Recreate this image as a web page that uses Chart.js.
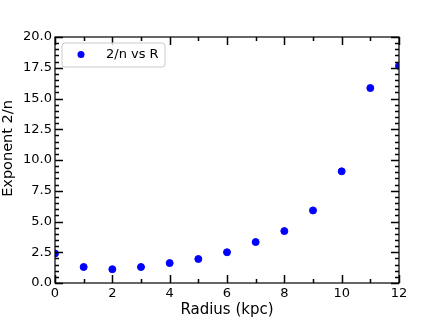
<!DOCTYPE html>
<html>
<head>
<meta charset="utf-8">
<script src="https://cdn.jsdelivr.net/npm/chart.js@4.4.1/dist/chart.umd.min.js"></script>
<style>
  html, body { margin: 0; padding: 0; background: #fff; }
  #wrap { width: 443px; height: 319px; }
</style>
</head>
<body>
<div id="wrap"><canvas id="mycanvas" width="443" height="319"></canvas></div>
<script>
// radius in kpc and fitted 2/n values
var radius = [0, 1, 2, 3, 4, 5, 6, 7, 8, 9, 10, 11, 12];
var exponent = [2.4, 1.3, 1.12, 1.3, 1.62, 1.95, 2.5, 3.33, 4.22, 5.9, 9.08, 15.85, 17.65];
var xTicks = [0, 2, 4, 6, 8, 10, 12];
var yTicks = [0, 2.5, 5, 7.5, 10, 12.5, 15, 17.5, 20];
var seriesLabel = '2/n vs R';
var yTitle = 'Exponent 2/n';

var font = "'DejaVu Sans', sans-serif";

var points = [];
for (var i in radius) {
    points.push({ x: radius[i], y: exponent[i] });
}

// matplotlib style frame with inward ticks, y title and boxed legend
var framePlugin = {
    id: 'frame',
    afterDraw: function (chart) {
        var ctx = chart.ctx;
        var a = chart.chartArea;
        var xs = chart.scales.x, ys = chart.scales.y;
        ctx.save();
        ctx.strokeStyle = '#000';
        ctx.lineWidth = 1.2;
        ctx.strokeRect(a.left, a.top, a.right - a.left, a.bottom - a.top);

        ctx.lineWidth = 1.5;
        ctx.beginPath();
        for (var v = 0; v <= 12; v += 1) {
            var px = Math.round(xs.getPixelForValue(v)) + 0.5;
            var len = (v % 2 === 0) ? 8 : 4;
            ctx.moveTo(px, a.bottom); ctx.lineTo(px, a.bottom - len);
            ctx.moveTo(px, a.top); ctx.lineTo(px, a.top + len);
        }
        for (var k = 0; k <= 40; k++) {
            var py = Math.round(ys.getPixelForValue(k * 0.5)) + 0.5;
            var ln = (k % 5 === 0) ? 8 : 4;
            ctx.moveTo(a.left, py); ctx.lineTo(a.left + ln, py);
            ctx.moveTo(a.right, py); ctx.lineTo(a.right - ln, py);
        }
        ctx.stroke();

        // y axis title
        ctx.save();
        ctx.translate(12.3, 148.5);
        ctx.rotate(-Math.PI / 2);
        ctx.fillStyle = '#000';
        ctx.font = '14.5px ' + font;
        ctx.textAlign = 'center';
        ctx.textBaseline = 'alphabetic';
        ctx.fillText(yTitle, 0, 0);
        ctx.restore();

        // legend
        var bx = 62, by = 43, bw = 103, bh = 24, r = 3;
        ctx.fillStyle = 'rgba(255,255,255,0.8)';
        ctx.strokeStyle = '#cccccc';
        ctx.lineWidth = 1;
        ctx.beginPath();
        ctx.moveTo(bx + r, by);
        ctx.arcTo(bx + bw, by, bx + bw, by + bh, r);
        ctx.arcTo(bx + bw, by + bh, bx, by + bh, r);
        ctx.arcTo(bx, by + bh, bx, by, r);
        ctx.arcTo(bx, by, bx + bw, by, r);
        ctx.closePath();
        ctx.fill();
        ctx.stroke();
        ctx.fillStyle = '#0000ff';
        ctx.beginPath();
        ctx.arc(81, 54.5, 3.5, 0, Math.PI * 2);
        ctx.fill();
        ctx.fillStyle = '#000';
        ctx.font = '13px ' + font;
        ctx.textBaseline = 'middle';
        ctx.fillText(seriesLabel, 106, 55);
        ctx.restore();
    }
};

var ctx = document.getElementById('mycanvas');

var scatter = new Chart(ctx, {
    type: 'scatter',
    data: {
        datasets: [{
            label: seriesLabel,
            data: points,
            backgroundColor: '#0000ff',
            borderColor: '#0000ff',
            pointRadius: 3.5,
            pointHoverRadius: 3.5,
            clip: 0
        }]
    },
    options: {
        responsive: false,
        animation: false,
        layout: { padding: { top: 37, right: 44, left: 0, bottom: 0 } },
        plugins: {
            legend: { display: false },
            tooltip: { enabled: false }
        },
        scales: {
            x: {
                type: 'linear',
                min: 0,
                max: 12,
                afterFit: function (s) { s.height = 36; },
                afterBuildTicks: function (s) {
                    s.ticks = xTicks.map(function (v) { return { value: v }; });
                },
                grid: { display: false, drawTicks: false },
                border: { display: false },
                ticks: {
                    padding: 3,
                    color: '#000',
                    font: { family: font, size: 13 },
                    maxRotation: 0
                },
                title: {
                    display: true,
                    text: 'Radius (kpc)',
                    color: '#000',
                    font: { family: font, size: 15 },
                    padding: { top: 0, bottom: 0 }
                }
            },
            y: {
                type: 'linear',
                min: 0,
                max: 20,
                afterFit: function (s) { s.width = 55; },
                afterBuildTicks: function (s) {
                    s.ticks = yTicks.map(function (v) { return { value: v }; });
                },
                grid: { display: false, drawTicks: false },
                border: { display: false },
                ticks: {
                    padding: 3,
                    color: '#000',
                    font: { family: font, size: 13 },
                    callback: function (v) { return Number(v).toFixed(1); }
                },
                title: { display: false }
            }
        }
    },
    plugins: [framePlugin]
});
</script>
</body>
</html>
